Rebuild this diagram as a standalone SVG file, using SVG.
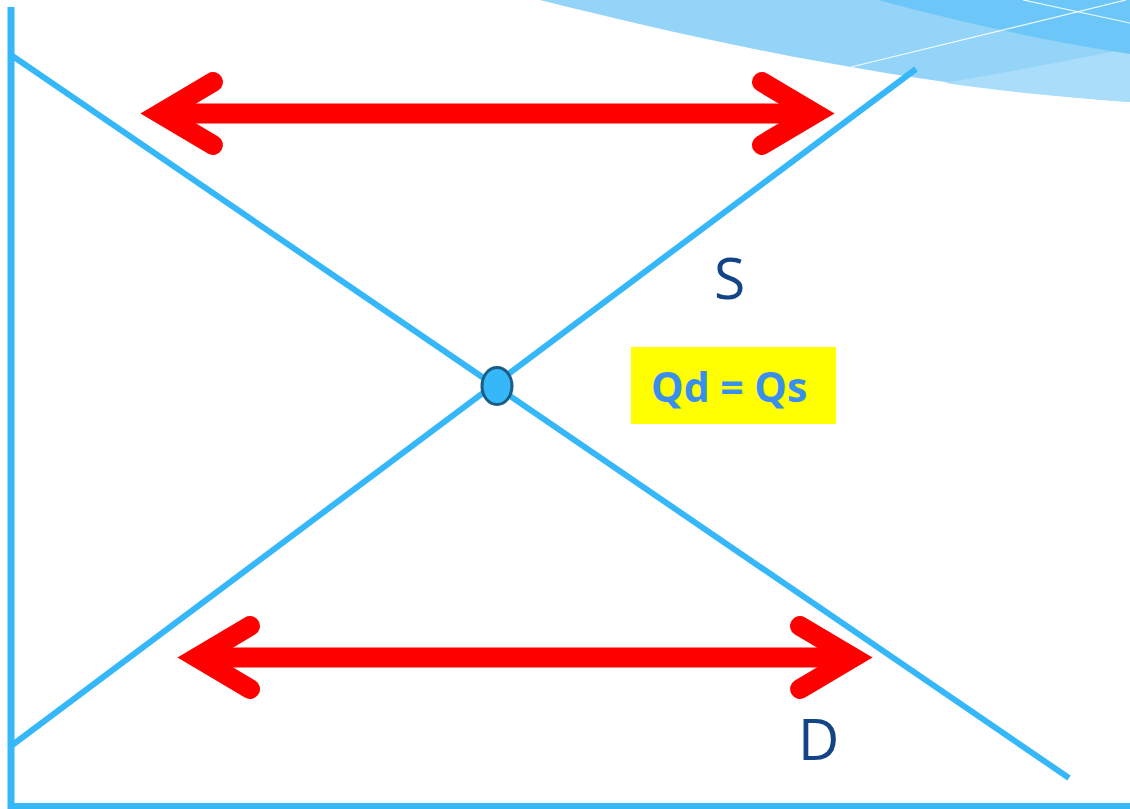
<svg xmlns="http://www.w3.org/2000/svg" width="1130" height="809" viewBox="0 0 1130 809">
<style>
.curve{fill:none;stroke:#35b7fa;stroke-width:6;stroke-linecap:butt}
.axis{fill:none;stroke:#35b7fa;stroke-width:7}
.arrow{fill:none;stroke:#ff0000;stroke-width:20;stroke-linecap:round;stroke-linejoin:miter;stroke-miterlimit:10}
.shaft{fill:none;stroke:#ff0000;stroke-width:20}
.lbl{font-family:"Open Sans","Noto Sans","Liberation Sans",sans-serif;fill:#134487;font-size:57px}
.eq{font-family:"Open Sans","Noto Sans","Liberation Sans",sans-serif;fill:#3a8fec;font-size:41px;font-weight:bold}
.wl{fill:none;stroke:#ffffff;stroke-width:1.2;stroke-opacity:0.9}
</style>
<rect width="1130" height="809" fill="#ffffff"/>
<g id="decoration">
<path d="M540,0 C700,40 900,85 1130,102 L1130,0 Z" fill="#93d4f8"/>
<path d="M945,83 C1010,72 1070,60 1130,48 L1130,102 C1060,97 1000,91 945,83 Z" fill="#a9ddfa"/>
<path d="M878,0 C960,22 1040,40 1130,54 L1130,0 Z" fill="#6cc7f8"/>
<line class="wl" x1="851" y1="67" x2="1126" y2="0"/>
<line class="wl" x1="1023" y1="0" x2="1130" y2="23"/>
</g>
<g id="axes">
<line class="axis" x1="11" y1="7" x2="11" y2="809"/>
<line class="axis" x1="8" y1="806" x2="1130" y2="806" style="stroke-width:6"/>
</g>
<g id="demand">
<line class="curve" x1="11" y1="55" x2="1069" y2="778"/>
</g>
<g id="supply">
<line class="curve" x1="11" y1="746" x2="916" y2="69"/>
</g>
<g id="equilibrium">
<ellipse cx="497" cy="386" rx="15" ry="18.5" fill="#35b7fa" stroke="#1b5d86" stroke-width="3"/>
</g>
<g id="label-eq">
<rect x="631" y="347" width="205" height="77" fill="#ffff00"/>
<text class="eq" x="651" y="402">Qd = Qs</text>
</g>
<g id="label-S">
<text class="lbl" x="714" y="299">S</text>
</g>
<g id="label-D">
<text class="lbl" x="798" y="760">D</text>
</g>
<g id="connectors">
<g id="arrow-top">
<line class="shaft" x1="165" y1="113.5" x2="810" y2="113.5"/>
<polyline class="arrow" points="213,82 160,113.5 213,145"/>
<polyline class="arrow" points="762,82 815,113.5 762,145"/>
</g>
<g id="arrow-bottom">
<line class="shaft" x1="202" y1="657.5" x2="848" y2="657.5"/>
<polyline class="arrow" points="250,626 197,657.5 250,689"/>
<polyline class="arrow" points="800,626 853,657.5 800,689"/>
</g>
</g>
</svg>
